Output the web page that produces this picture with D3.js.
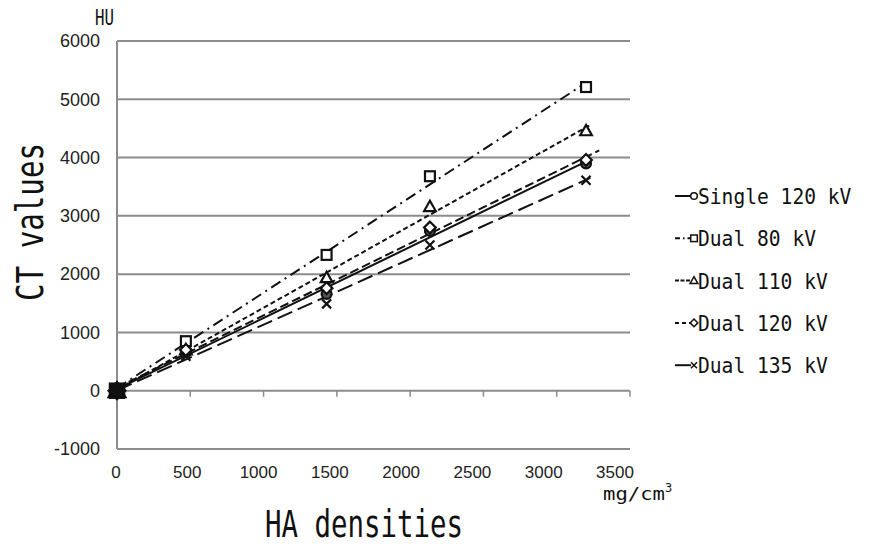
<!DOCTYPE html>
<html><head><meta charset="utf-8">
<script src="https://cdn.jsdelivr.net/npm/d3@7"></script>
<style>body{margin:0;background:#fff}svg{display:block}</style>
</head><body>
<script>
// ---- data ----
const densities = [0, 470, 1430, 2135, 3200];
const seriesNames = ["Single 120 kV", "Dual 80 kV", "Dual 110 kV", "Dual 120 kV", "Dual 135 kV"];
const single120 = [0, 660, 1660, 2740, 3900];
const dual80 = [0, 850, 2330, 3680, 5210];
const dual110 = [0, 700, 1940, 3160, 4460];
const dual120 = [0, 700, 1760, 2800, 3960];
const dual135 = [0, 590, 1490, 2500, 3610];
const trendEnd = [3210, 3180, 3230, 3290, 3230];
const yTicks = [-1000, 0, 1000, 2000, 3000, 4000, 5000, 6000];
const xTicks = [0, 500, 1000, 1500, 2000, 2500, 3000, 3500];

const values = [single120, dual80, dual110, dual120, dual135];
const markers = ["circle", "square", "triangle", "diamond", "cross"];
const dashes = [null, "11,5,2,5", "5,3", "9,4", "16,6"];

const W = 876, H = 545;
const svg = d3.select("body").append("svg").attr("width", W).attr("height", H);
const x = d3.scaleLinear().domain([0, 3500]).range([117, 630]);
const y = d3.scaleLinear().domain([-1000, 6000]).range([449, 41]);
const grid = "#8c8c8c";

// gridlines
svg.append("g").selectAll("line").data(yTicks).join("line")
  .attr("x1", x(0)).attr("x2", x(3500))
  .attr("y1", d => y(d)).attr("y2", d => y(d))
  .attr("stroke", grid).attr("stroke-width", 2);
// left axis
svg.append("line").attr("x1", x(0)).attr("x2", x(0)).attr("y1", y(6000)).attr("y2", y(-1000))
  .attr("stroke", grid).attr("stroke-width", 2);
// x tick marks on zero line
svg.append("g").selectAll("line").data(xTicks.slice(1)).join("line")
  .attr("x1", d => x(d)).attr("x2", d => x(d)).attr("y1", y(0)).attr("y2", y(0) + 6)
  .attr("stroke", grid).attr("stroke-width", 1.5);

// tick labels
svg.append("g").selectAll("text").data(yTicks).join("text")
  .attr("x", 100).attr("y", d => y(d)).attr("dy", "0.35em").attr("text-anchor", "end")
  .attr("font-family", "Liberation Sans, Arial, sans-serif").attr("font-size", 18).attr("fill", "#222")
  .text(d => d);
svg.append("g").selectAll("text").data(xTicks).join("text")
  .attr("x", d => x(d) - 1 - d / 3500 * 14).attr("y", 472).attr("dy", "0.35em").attr("text-anchor", "middle")
  .attr("font-family", "Liberation Sans, Arial, sans-serif").attr("font-size", 17).attr("fill", "#222")
  .text(d => d);

// titles
const mono = "DejaVu Sans Mono, monospace";
svg.append("text").attr("transform", "translate(43,222) rotate(-90)").attr("text-anchor", "middle")
  .attr("font-family", mono).attr("font-size", 37).attr("fill", "#111")
  .attr("textLength", 158).attr("lengthAdjust", "spacingAndGlyphs").text("CT values");
svg.append("text").attr("x", 364).attr("y", 537).attr("text-anchor", "middle")
  .attr("font-family", mono).attr("font-size", 37).attr("fill", "#111")
  .attr("textLength", 198).attr("lengthAdjust", "spacingAndGlyphs").text("HA densities");
svg.append("text").attr("x", 95).attr("y", 25)
  .attr("font-family", mono).attr("font-size", 21).attr("fill", "#111")
  .attr("textLength", 19).attr("lengthAdjust", "spacingAndGlyphs").text("HU");
const mg = svg.append("text").attr("x", 603).attr("y", 500)
  .attr("font-family", mono).attr("font-size", 18).attr("fill", "#111");
mg.append("tspan").attr("textLength", 62).attr("lengthAdjust", "spacingAndGlyphs").text("mg/cm");
mg.append("tspan").attr("dy", -8).attr("font-size", 12).text("3");

// marker drawing
function drawMarker(g, type, cx, cy, s, fill) {
  let el;
  if (type === "circle") el = g.append("circle").attr("cx", cx).attr("cy", cy).attr("r", s * 0.55);
  else if (type === "square") el = g.append("rect").attr("x", cx - s * 0.55).attr("y", cy - s * 0.55).attr("width", s * 1.1).attr("height", s * 1.1);
  else if (type === "triangle") el = g.append("path").attr("d", `M${cx},${cy - s * 0.65}L${cx + s * 0.65},${cy + s * 0.5}L${cx - s * 0.65},${cy + s * 0.5}Z`);
  else if (type === "diamond") el = g.append("path").attr("d", `M${cx},${cy - s * 0.65}L${cx + s * 0.65},${cy}L${cx},${cy + s * 0.65}L${cx - s * 0.65},${cy}Z`);
  else el = g.append("path").attr("d", `M${cx - s * 0.5},${cy - s * 0.5}L${cx + s * 0.5},${cy + s * 0.5}M${cx - s * 0.5},${cy + s * 0.5}L${cx + s * 0.5},${cy - s * 0.5}`);
  el.attr("stroke", "#111").attr("stroke-width", 2.2).attr("fill", type === "cross" ? "none" : (fill || "#fff"));
  return el;
}

// trendlines
values.forEach((vals, i) => {
  const mx = d3.mean(densities), my = d3.mean(vals);
  const b = d3.sum(densities, (d, j) => (d - mx) * (vals[j] - my)) / d3.sum(densities, d => (d - mx) ** 2);
  const a = my - b * mx;
  svg.append("line")
    .attr("x1", x(0)).attr("y1", y(a))
    .attr("x2", x(trendEnd[i])).attr("y2", y(a + b * trendEnd[i]))
    .attr("stroke", "#111").attr("stroke-width", 2)
    .attr("stroke-dasharray", dashes[i]);
});

// markers
const mg2 = svg.append("g");
values.forEach((vals, i) => {
  vals.forEach((v, j) => drawMarker(mg2, markers[i], x(densities[j]), y(v), j === 0 ? 13 : 9,
    j === 0 ? "#111" : (markers[i] === "circle" ? "#555" : "#fff")));
});

// legend
const lg = svg.append("g");
seriesNames.forEach((name, i) => {
  const ly = 196 + i * 42.3;
  lg.append("line").attr("x1", 675).attr("x2", 691).attr("y1", ly).attr("y2", ly)
    .attr("stroke", "#111").attr("stroke-width", 2)
    .attr("stroke-dasharray", i === 0 ? null : (i === 4 ? null : (i === 1 ? "5,3,1.5,3" : (i === 2 ? "4,1.5" : "4,3"))));
  drawMarker(lg, markers[i], 694, ly, 6).attr("stroke-width", 1.5);
  lg.append("text").attr("x", 698).attr("y", ly).attr("dy", "0.36em")
    .attr("font-family", mono).attr("font-size", 22).attr("fill", "#111")
    .attr("textLength", name.length * 11.8).attr("lengthAdjust", "spacingAndGlyphs").text(name);
});
</script>
</body></html>
